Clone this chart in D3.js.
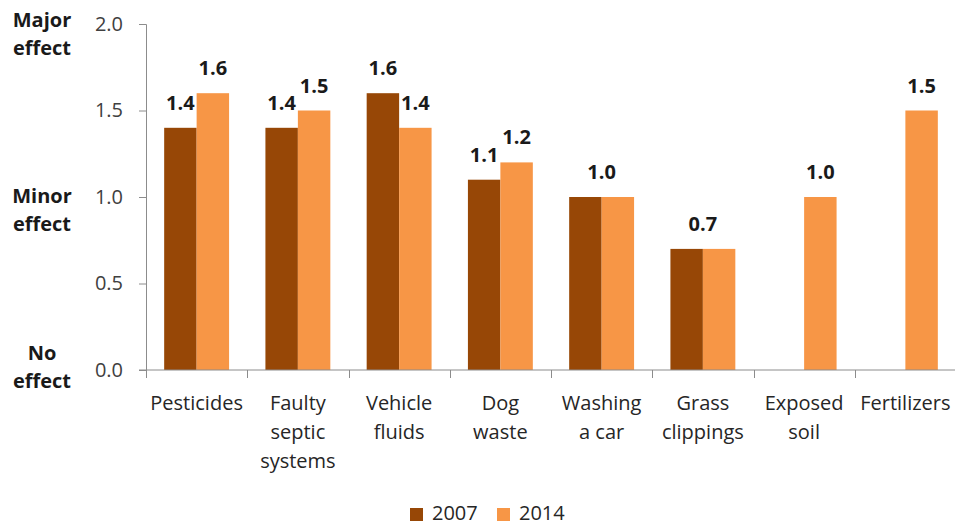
<!DOCTYPE html>
<html>
<head>
<meta charset="utf-8">
<script src="https://cdn.jsdelivr.net/npm/d3@7"></script>
<style>
  body { margin: 0; background: #fff; }
  text { font-family: "Open Sans", "Liberation Sans", sans-serif; }
</style>
</head>
<body>
<div id="chart"></div>
<script>
// data
var categories = [["Pesticides"], ["Faulty", "septic", "systems"], ["Vehicle", "fluids"], ["Dog", "waste"],
                  ["Washing", "a car"], ["Grass", "clippings"], ["Exposed", "soil"], ["Fertilizers"]];
var years = ["2007", "2014"];
var values2007 = [1.4, 1.4, 1.6, 1.1, 1.0, 0.7, null, null];
var values2014 = [1.6, 1.5, 1.4, 1.2, 1.0, 0.7, 1.0, 1.5];
var yTicks = [0, 0.5, 1.0, 1.5, 2.0];
var effectLabels = [[2.0, ["Major", "effect"]], [1.0, ["Minor", "effect"]], [0.0, ["No", "effect"]]];
var colors = ["#974706", "#F79646"];

var width = 955, height = 525;
var margin = {left: 146, right: 0, top: 24, bottom: 155};

var svg = d3.select("#chart").append("svg")
	.attr("width", width)
	.attr("height", height);

var x = d3.scaleBand()
	.domain(d3.range(categories.length))
	.range([margin.left, width - margin.right + 1])
	.paddingInner(0)
	.paddingOuter(0);

var x1 = d3.scaleBand()
	.domain(years)
	.range([0, x.bandwidth()])
	.paddingOuter(0.56);

var y = d3.scaleLinear()
	.domain([0, 2])
	.range([height - margin.bottom, margin.top]);

var series = [values2007, values2014];

// bars
for (let s = 0; s < series.length; ++s) {
	var g = svg.append("g").attr("class", "series s" + years[s]);
	for (let i = 0; i < categories.length; ++i) {
		var v = series[s][i];
		if (v == null) continue;
		g.append("rect")
			.attr("x", x(i) + x1(years[s]))
			.attr("y", y(v))
			.attr("width", x1.bandwidth())
			.attr("height", y(0) - y(v))
			.attr("fill", colors[s]);
	}
}

// value labels
for (let i = 0; i < categories.length; ++i) {
	var a = values2007[i], b = values2014[i];
	var labels = [];
	if (a != null && b != null && a === b) {
		labels.push([x(i) + x.bandwidth() / 2, a]);
	} else {
		if (a != null) labels.push([x(i) + x1("2007") + x1.bandwidth() / 2, a]);
		if (b != null) labels.push([x(i) + x1("2014") + x1.bandwidth() / 2, b]);
	}
	labels.forEach(function(l) {
		svg.append("text")
			.attr("x", l[0])
			.attr("y", y(l[1]) - 18)
			.attr("text-anchor", "middle")
			.attr("font-size", 20)
			.attr("font-weight", "bold")
			.attr("fill", "#1a1a1a")
			.text(d3.format(".1f")(l[1]));
	});
}

// y axis
var yAxis = svg.append("g")
	.attr("transform", "translate(" + margin.left + ",0)")
	.call(d3.axisLeft(y).tickValues(yTicks).tickFormat(d3.format(".1f")).tickSize(7).tickPadding(16));
yAxis.selectAll("path, line").attr("stroke", "#8c8c8c");
yAxis.selectAll("text").attr("font-size", 20).attr("fill", "#404040")
	.style("font-family", "'Open Sans', sans-serif");

// x axis
var xAxis = svg.append("g")
	.attr("transform", "translate(0," + y(0) + ")");
xAxis.append("line")
	.attr("x1", margin.left - 7).attr("x2", width)
	.attr("stroke", "#8c8c8c");
for (let i = 0; i <= categories.length; ++i) {
	var tx = i < categories.length ? x(i) : x(i - 1) + x.bandwidth();
	xAxis.append("line")
		.attr("x1", Math.round(tx) + 0.5).attr("x2", Math.round(tx) + 0.5)
		.attr("y1", 0).attr("y2", 8)
		.attr("stroke", "#8c8c8c");
}
categories.forEach(function(lines, i) {
	var t = xAxis.append("text")
		.attr("text-anchor", "middle")
		.attr("font-size", 20)
		.attr("fill", "#262626");
	lines.forEach(function(line, k) {
		t.append("tspan")
			.attr("x", x(i) + x.bandwidth() / 2)
			.attr("y", 40 + k * 29)
			.text(line);
	});
});

// effect labels on the left
var effectDy = [3, 6, -10];
effectLabels.forEach(function(d, i) {
	var t = svg.append("text")
		.attr("text-anchor", "middle")
		.attr("font-size", 20)
		.attr("font-weight", "bold")
		.attr("fill", "#1a1a1a");
	d[1].forEach(function(line, k) {
		t.append("tspan")
			.attr("x", 42)
			.attr("y", y(d[0]) + effectDy[i] + k * 28)
			.text(line);
	});
});

// legend
var legend = svg.append("g").attr("transform", "translate(410,520)");
years.forEach(function(yr, i) {
	var lg = legend.append("g").attr("transform", "translate(" + (i * 87) + ",0)");
	lg.append("rect")
		.attr("x", 0).attr("y", -12)
		.attr("width", 13).attr("height", 13)
		.attr("fill", colors[i]);
	lg.append("text")
		.attr("x", 22).attr("y", 0)
		.attr("font-size", 20)
		.attr("fill", "#262626")
		.text(yr);
});
</script>
</body>
</html>
